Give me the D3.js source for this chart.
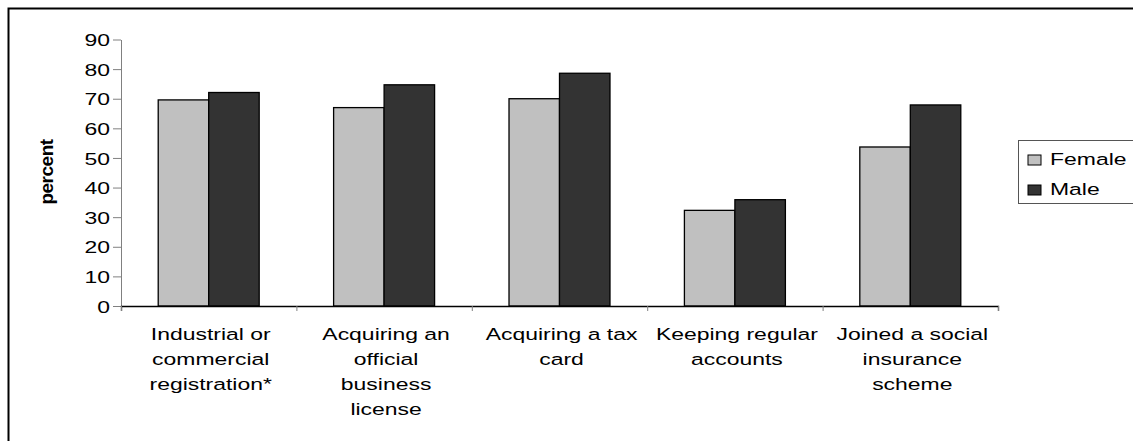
<!DOCTYPE html>
<html>
<head>
<meta charset="utf-8">
<script src="https://cdn.jsdelivr.net/npm/d3@7"></script>
<style>
  body { margin: 0; background: #fff; }
  text { font-family: "Liberation Sans", Arial, sans-serif; fill: #000; }
</style>
</head>
<body>
<svg width="1133" height="441"></svg>
<script>
// chart data
var categories = [
  ["Industrial or", "commercial", "registration*"],
  ["Acquiring an", "official", "business", "license"],
  ["Acquiring a tax", "card"],
  ["Keeping regular", "accounts"],
  ["Joined a social", "insurance", "scheme"]
];
var series = ["Female", "Male"];
var female = [69.6, 67.0, 70.0, 32.3, 53.7];
var male = [72.1, 74.7, 78.6, 35.9, 67.9];
var yTicks = [0, 10, 20, 30, 40, 50, 60, 70, 80, 90];

var colors = {"Female": "#c0c0c0", "Male": "#333333"};
var stretch = 1.35; // text in the source is wide

var svg = d3.select("svg");

// outer frame (runs off the picture on right / bottom)
svg.append("rect")
    .attr("x", 8.5).attr("y", 8.5)
    .attr("width", 1200).attr("height", 500)
    .attr("fill", "none").attr("stroke", "#000").attr("stroke-width", 2);

var plotLeft = 121, plotRight = 998, plotTop = 39.5, plotBottom = 306;

var rows = categories.map(function(c, i) {
  return {key: i, lines: c, values: [female[i], male[i]]};
});

var x0 = d3.scaleBand()
    .domain(d3.range(categories.length))
    .range([plotLeft, plotRight]);

var x1 = d3.scaleBand()
    .domain(series)
    .range([0, x0.bandwidth()])
    .paddingOuter(0.737);

var y = d3.scaleLinear()
    .domain([0, 90])
    .range([plotBottom, plotTop]);

// y axis
var yAxis = svg.append("g")
    .attr("transform", "translate(" + plotLeft + ",0)")
    .call(d3.axisLeft(y).tickValues(yTicks).tickSize(8).tickSizeOuter(0));
yAxis.select(".domain").attr("stroke", "#808080");
yAxis.selectAll(".tick line").attr("stroke", "#808080");
yAxis.selectAll(".tick text")
    .attr("x", -11 / stretch)
    .attr("dy", "0.36em")
    .attr("transform", "scale(" + stretch + ",1)")
    .style("font-size", "17px")
    .style("font-family", "'Liberation Sans', Arial, sans-serif");

// bars
var group = svg.append("g").selectAll("g")
    .data(rows)
    .enter().append("g")
      .attr("transform", function(d) { return "translate(" + x0(d.key) + ",0)"; });

group.selectAll("rect")
    .data(function(d) { return series.map(function(s, j) { return {s: s, v: d.values[j]}; }); })
    .enter().append("rect")
      .attr("x", function(d) { return x1(d.s); })
      .attr("y", function(d) { return y(d.v); })
      .attr("width", x1.bandwidth())
      .attr("height", function(d) { return y(0) - y(d.v); })
      .attr("fill", function(d) { return colors[d.s]; })
      .attr("stroke", "#000")
      .attr("stroke-width", 1.3);

// x axis: ticks between categories
var xEdge = d3.scaleLinear().domain([0, categories.length]).range([plotLeft, plotRight]);
var xAxis = svg.append("g")
    .attr("transform", "translate(0," + plotBottom + ")")
    .call(d3.axisBottom(xEdge).ticks(categories.length).tickSize(5).tickSizeOuter(5).tickFormat(""));
xAxis.select(".domain").attr("stroke", "#000").attr("stroke-width", 1.3);
xAxis.selectAll(".tick line").attr("stroke", "#808080");

// category labels
var labels = svg.append("g").selectAll("g")
    .data(rows)
    .enter().append("g")
      .attr("transform", function(d) { return "translate(" + (x0(d.key) + x0.bandwidth() / 2 + 2) + ",340)"; });

labels.selectAll("text")
    .data(function(d) { return d.lines; })
    .enter().append("text")
      .attr("text-anchor", "middle")
      .attr("transform", function(d, i) { return "translate(0," + (i * 25) + ") scale(" + stretch + ",1)"; })
      .style("font-size", "17px")
      .text(function(d) { return d; });

// y title
svg.append("text")
    .attr("transform", "translate(53,172) rotate(-90)")
    .attr("text-anchor", "middle")
    .style("font-size", "19px")
    .style("font-weight", "bold")
    .style("letter-spacing", "-0.5px")
    .text("percent");

// legend
var legend = svg.append("g");
legend.append("rect")
    .attr("x", 1018.5).attr("y", 140.5)
    .attr("width", 200).attr("height", 63)
    .attr("fill", "#fff").attr("stroke", "#555").attr("stroke-width", 1);

var item = legend.selectAll(".item")
    .data(series)
    .enter().append("g")
      .attr("class", "item")
      .attr("transform", function(d, i) { return "translate(1028," + (155 + i * 30) + ")"; });

item.append("rect")
    .attr("width", 13).attr("height", 10)
    .attr("fill", function(d) { return colors[d]; })
    .attr("stroke", "#000").attr("stroke-width", 1);

item.append("text")
    .attr("transform", "translate(22,10) scale(" + stretch + ",1)")
    .style("font-size", "17px")
    .text(function(d) { return d; });
</script>
</body>
</html>
